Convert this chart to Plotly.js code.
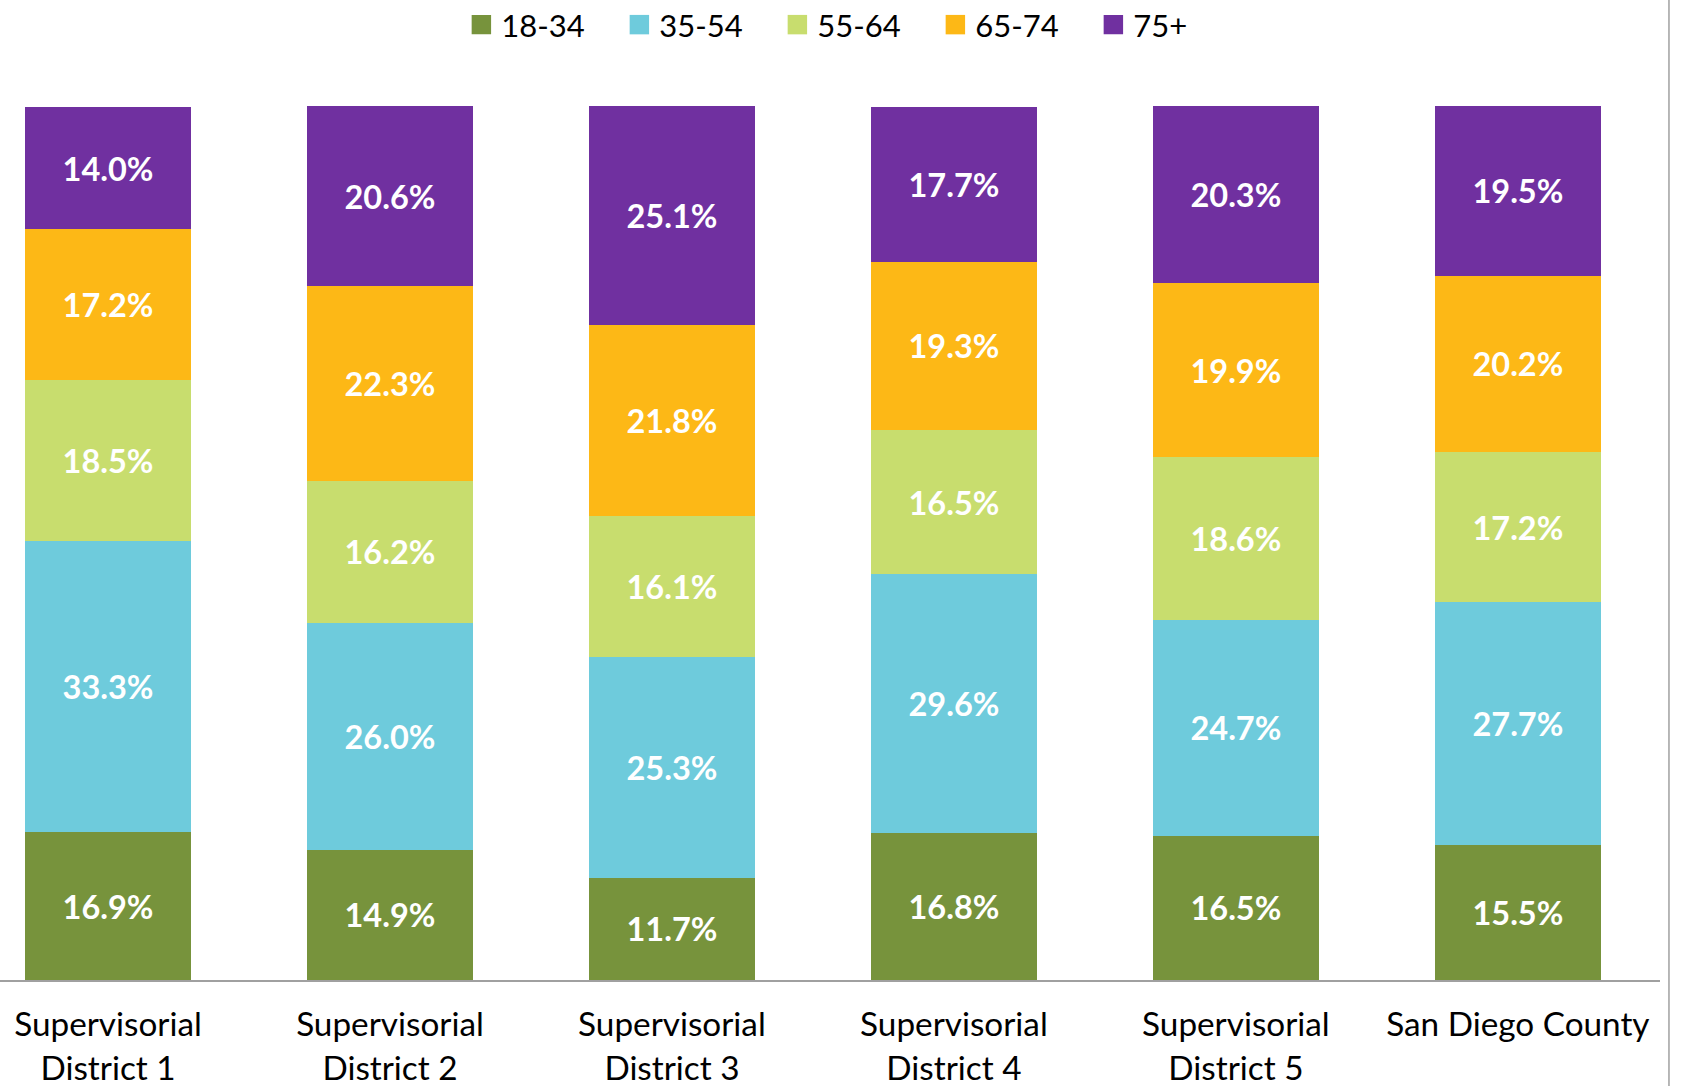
<!DOCTYPE html>
<html>
<head>
<meta charset="utf-8">
<script src="https://cdn.plot.ly/plotly-3.0.1.min.js"></script>
<style>html,body{margin:0;padding:0;background:#fff;}#chart{width:1682px;height:1086px;}</style>
</head>
<body>
<div id="chart"></div>
<script>
const categories = ["Supervisorial<br>District 1", "Supervisorial<br>District 2", "Supervisorial<br>District 3", "Supervisorial<br>District 4", "Supervisorial<br>District 5", "San Diego County"];
const seriesNames = ["18-34", "35-54", "55-64", "65-74", "75+"];
const age18_34 = [16.9, 14.9, 11.7, 16.8, 16.5, 15.5];
const age35_54 = [33.3, 26.0, 25.3, 29.6, 24.7, 27.7];
const age55_64 = [18.5, 16.2, 16.1, 16.5, 18.6, 17.2];
const age65_74 = [17.2, 22.3, 21.8, 19.3, 19.9, 20.2];
const age75plus = [14.0, 20.6, 25.1, 17.7, 20.3, 19.5];
const seriesColors = ["#77933C", "#6ECBDC", "#C8DD6E", "#FDB816", "#7030A0"];

const seriesValues = [age18_34, age35_54, age55_64, age65_74, age75plus];
const FONT = "Lato, 'Open Sans', sans-serif";

const traces = seriesValues.map((vals, i) => ({
  type: "bar",
  name: seriesNames[i],
  x: categories,
  y: vals,
  marker: {color: seriesColors[i], line: {width: 0}},
  texttemplate: "%{y:.1f}%",
  textposition: "inside",
  insidetextanchor: "middle",
  constraintext: "none",
  textfont: {family: FONT, size: 32.5, color: "#ffffff", weight: "bold"},
  hoverinfo: "skip"
}));

const layout = {
  width: 1682,
  height: 1086,
  margin: {l: 0, r: 22, t: 106, b: 106, pad: 0},
  paper_bgcolor: "#ffffff",
  plot_bgcolor: "#ffffff",
  barmode: "stack",
  bargap: 0.412,
  showlegend: true,
  legend: {
    orientation: "h",
    traceorder: "normal",
    xref: "container", yref: "container",
    x: 0.2743, xanchor: "left",
    y: 0.977, yanchor: "middle",
    entrywidth: 113,
    entrywidthmode: "pixels",
    font: {family: FONT, size: 31, color: "#000000"},
    bgcolor: "rgba(0,0,0,0)"
  },
  xaxis: {
    type: "category",
    range: [-0.383, 5.504],
    showline: true,
    linecolor: "#A0A0A0",
    linewidth: 1.5,
    showgrid: false,
    zeroline: false,
    ticks: "",
    ticklabelstandoff: 15,
    tickfont: {family: FONT, size: 33.3, color: "#000000"},
    fixedrange: true
  },
  yaxis: {
    range: [0, 100],
    visible: false,
    showgrid: false,
    zeroline: false,
    fixedrange: true
  },
  shapes: [{
    type: "line", xref: "paper", yref: "paper",
    x0: 1.0054, x1: 1.0054, y0: -0.13, y1: 1.13,
    line: {color: "#A0A0A0", width: 1.5}
  }]
};

Plotly.newPlot("chart", traces, layout, {displayModeBar: false, staticPlot: true}).then(gd => {
  gd.querySelectorAll(".legend .legendpoints path").forEach(p => {
    const old = p.getAttribute("transform") || "";
    p.setAttribute("transform", old + " scale(1.62)");
  });
});
</script>
</body>
</html>
